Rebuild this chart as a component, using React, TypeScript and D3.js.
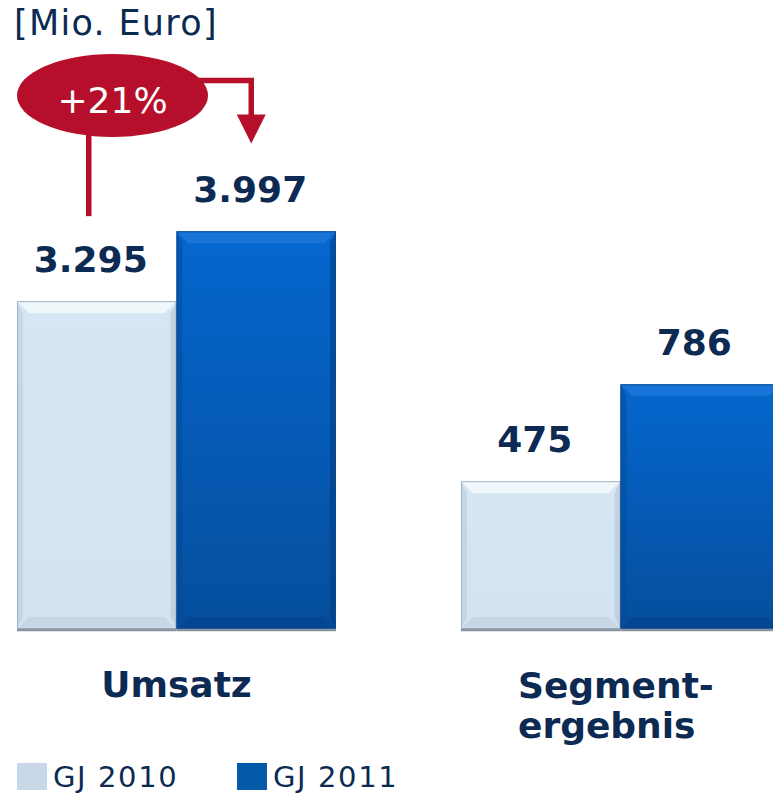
import React from "react";
import * as d3 from "d3";

const categories = ["Umsatz", "Segment-\nergebnis"];
const series = ["GJ 2010", "GJ 2011"];
const values2010 = [3295, 475];
const values2011 = [3997, 786];
const valueLabels2010 = ["3.295", "475"];
const valueLabels2011 = ["3.997", "786"];
const axisMax = [4000, 800];
const unitLabel = "[Mio. Euro]";

const W = 773;
const H = 794;
const NAVY = "#0c2a52";
const RED = "#b50f2b";

type BarProps = { x: number; y: number; w: number; h: number; kind: number; id: string };

function BevelBar({ x, y, w, h, kind, id }: BarProps) {
  const b = Math.min(12, h / 2);
  const light = kind === 0;
  const pts = (p: number[][]) => p.map((q) => q.join(",")).join(" ");
  return (
    <g>
      <defs>
        <linearGradient id={id} x1="0" y1="0" x2="0" y2="1">
          {light ? (
            <>
              <stop offset="0" stopColor="#d6e6f4" />
              <stop offset="1" stopColor="#d3e3f1" />
            </>
          ) : (
            <>
              <stop offset="0" stopColor="#0567cf" />
              <stop offset="1" stopColor="#054e9c" />
            </>
          )}
        </linearGradient>
      </defs>
      <rect x={x} y={y} width={w} height={h} fill={`url(#${id})`} />
      <polygon
        points={pts([[x, y], [x + w, y], [x + w - b, y + b], [x + b, y + b]])}
        fill={light ? "#f3f8fc" : "#2a80e0"}
        opacity={light ? 0.9 : 0.55}
      />
      <polygon
        points={pts([[x, y], [x + b * 0.5, y + b], [x + b * 0.5, y + h - b], [x, y + h]])}
        fill={light ? "#b9c8d6" : "#034a96"}
        opacity={0.5}
      />
      <polygon
        points={pts([[x + w, y], [x + w - b * 0.5, y + b], [x + w - b * 0.5, y + h - b], [x + w, y + h]])}
        fill={light ? "#b4c3d2" : "#033c80"}
        opacity={0.55}
      />
      <polygon
        points={pts([[x, y + h], [x + w, y + h], [x + w - b, y + h - b], [x + b, y + h - b]])}
        fill={light ? "#bccbd9" : "#033f85"}
        opacity={light ? 0.5 : 0.45}
      />
      <rect
        x={x + 0.5}
        y={y + 0.5}
        width={w - 1}
        height={h - 1}
        fill="none"
        stroke={light ? "#a4b2c0" : "#0a4a90"}
        strokeWidth={1}
      />
      <line x1={x} x2={x + w} y1={y + h + 1} y2={y + h + 1} stroke="#8995a2" strokeWidth={2.5} />
    </g>
  );
}

export default function App() {
  const baseY = 629;
  const xGroup = d3.scaleBand<string>().domain(categories).range([17, 780]).paddingInner(0.2815).paddingOuter(0);
  const xSeries = d3.scaleBand<string>().domain(series).range([0, xGroup.bandwidth()]).padding(0);
  const yScales = axisMax.map((m, i) =>
    d3.scaleLinear().domain([0, m]).range([baseY, i === 0 ? 231 : 380])
  );
  const seriesValues = [values2010, values2011];
  const seriesLabels = [valueLabels2010, valueLabels2011];

  const bars: { x: number; y: number; w: number; h: number; kind: number; label: string; ci: number }[] = [];
  categories.forEach((c, ci) => {
    series.forEach((s, si) => {
      const v = seriesValues[si][ci];
      const x = (xGroup(c) ?? 0) + (xSeries(s) ?? 0);
      const y = yScales[ci](v);
      bars.push({ x, y, w: xSeries.bandwidth(), h: baseY - y, kind: si, label: seriesLabels[si][ci], ci });
    });
  });

  const b0 = bars[0];
  const b1 = bars[1];
  const growth = Math.round((values2011[0] / values2010[0] - 1) * 100);
  const ex = b0.x + 95.5;
  const ey = 95.5;
  const lx = b0.x + b0.w / 2 - 8;
  const ax = b1.x + b1.w / 2 - 5;

  return (
    <svg
      width={W}
      height={H}
      viewBox={`0 0 ${W} ${H}`}
      style={{ position: "absolute", left: 0, top: 0, background: "#fff" }}
      fontFamily="'DejaVu Sans', Verdana, sans-serif"
    >
      <rect width={W} height={H} fill="#fff" />
      <text x={14} y={35} fontSize={35} fill={NAVY} letterSpacing={1.3}>
        {unitLabel}
      </text>

      {bars.map((b, i) => (
        <BevelBar key={i} x={b.x} y={b.y} w={b.w} h={b.h} kind={b.kind} id={`g${i}`} />
      ))}

      {bars.map((b, i) => (
        <text
          key={"l" + i}
          x={b.x + b.w / 2 - 6}
          y={b.y - 29}
          textAnchor="middle"
          fontSize={36}
          fontWeight="bold"
          fill={NAVY}
        >
          {b.label}
        </text>
      ))}

      <line x1={lx} x2={lx} y1={ey + 30} y2={b0.y - 85} stroke={RED} strokeWidth={5.5} />
      <polyline
        points={`${ex + 80},${ey - 15} ${ax},${ey - 15} ${ax},${ey + 22}`}
        fill="none"
        stroke={RED}
        strokeWidth={5.5}
      />
      <polygon points={`${ax - 14.5},${ey + 19} ${ax + 14.5},${ey + 19} ${ax},${ey + 48}`} fill={RED} />
      <ellipse cx={ex} cy={ey} rx={95.5} ry={41.5} fill={RED} />
      <text x={ex} y={ey + 17} textAnchor="middle" fontSize={36} fill="#fff">
        {`+${growth}%`}
      </text>

      {categories.map((c) => {
        const lines = c.split("\n");
        const cx = (xGroup(c) ?? 0) + xGroup.bandwidth() / 2;
        if (lines.length === 1) {
          return (
            <text key={c} x={cx} y={697} textAnchor="middle" fontSize={36} fontWeight="bold" fill={NAVY}>
              {c}
            </text>
          );
        }
        return (
          <text key={c} x={(xGroup(c) ?? 0) + 57} y={698} fontSize={36} fontWeight="bold" fill={NAVY}>
            {lines.map((l, li) => (
              <tspan key={li} x={(xGroup(c) ?? 0) + 57} dy={li === 0 ? 0 : 40}>
                {l}
              </tspan>
            ))}
          </text>
        );
      })}

      {series.map((s, si) => {
        const lx0 = 17 + si * 220;
        return (
          <g key={s}>
            <rect x={lx0} y={763} width={30} height={27} fill={si === 0 ? "#c9d8e8" : "#0459a8"} />
            <text x={lx0 + 36} y={787} fontSize={29} fill={NAVY} letterSpacing={1.6}>
              {s}
            </text>
          </g>
        );
      })}
    </svg>
  );
}
